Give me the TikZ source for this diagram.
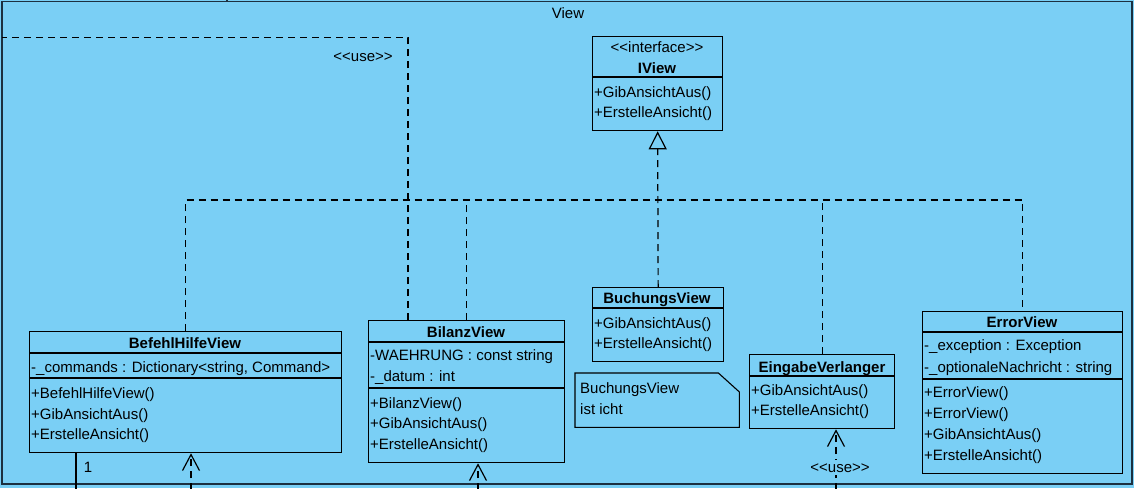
\documentclass[tikz,border=0pt]{standalone}
\usepackage{fontspec}
\setmainfont{Liberation Sans}
\usetikzlibrary{arrows.meta,calc}
\definecolor{viewblue}{RGB}{122,207,245}
\definecolor{framecol}{RGB}{28,48,64}
\newcommand{\stereo}[1]{<\kern0pt<#1>\kern0pt>}

\begin{document}
\begin{tikzpicture}[
    x=1pt, y=-1pt,
    every node/.style={font=\fontsize{15}{18}\selectfont, inner sep=0pt},
    cls/.style={draw=black, line width=1.3pt, fill=viewblue, anchor=north west, inner sep=0pt},
    notebox/.style={anchor=north west, inner sep=0pt, minimum width=164, minimum height=54},
    title/.style={font=\fontsize{15}{18}\selectfont\bfseries, text height=11pt, text depth=0pt},
    label/.style={text height=11pt, text depth=0pt},
    member/.style={anchor=west, text height=11pt, text depth=0pt},
    sep/.style={line width=1.1pt},
    realize/.style={line width=1.2pt, dash pattern=on 7pt off 5pt},
    dep/.style={line width=1.2pt, dash pattern=on 7pt off 5pt, -{Straight Barb[length=16pt,width=17pt]}},
    assoc/.style={line width=1.2pt}
]

\useasboundingbox (0,0) rectangle (1134,488);
\fill[viewblue] (0,0) rectangle (1134,488);

% package frame
\draw[framecol, line width=1.5pt] (2,1.5) rectangle (1132,484);
\draw[framecol, line width=1.5pt] (227,0) -- (227,1.5);
\node[label] (viewlabel) at (568,13) {View};

% classes
\node[cls, minimum width=130, minimum height=94] (iview) at (592,36) {};
\node[cls, minimum width=312, minimum height=121] (befehl) at (29,331) {};
\node[cls, minimum width=196, minimum height=142] (bilanz) at (368,320) {};
\node[cls, minimum width=131, minimum height=74] (buchungs) at (592,287) {};
\node[cls, minimum width=145, minimum height=74] (eingabe) at (749,354) {};
\node[cls, minimum width=200, minimum height=162] (error) at (922,311) {};
\node[notebox] (note) at (575,373) {};

\draw[sep] ([yshift=-41pt]iview.north west) -- ([yshift=-41pt]iview.north east);
\draw[sep] ([yshift=-22pt]befehl.north west) -- ([yshift=-22pt]befehl.north east);
\draw[sep] ([yshift=-47pt]befehl.north west) -- ([yshift=-47pt]befehl.north east);
\draw[sep] ([yshift=-22pt]bilanz.north west) -- ([yshift=-22pt]bilanz.north east);
\draw[sep] ([yshift=-68pt]bilanz.north west) -- ([yshift=-68pt]bilanz.north east);
\draw[sep] ([yshift=-21pt]buchungs.north west) -- ([yshift=-21pt]buchungs.north east);
\draw[sep] ([yshift=-22pt]eingabe.north west) -- ([yshift=-22pt]eingabe.north east);
\draw[sep] ([yshift=-21pt]error.north west) -- ([yshift=-21pt]error.north east);
\draw[sep] ([yshift=-68pt]error.north west) -- ([yshift=-68pt]error.north east);
\draw[sep] (note.north west) -- ([xshift=-21pt]note.north east) -- ([yshift=-19pt]note.north east)
    -- (note.south east) -- (note.south west) -- cycle;

\node[label] (iview-st) at (657,47) {\stereo{interface}};
\node[title] (iview-t) at (657,68) {IView};
\node[member] (iview-m1) at (594,92) {+GibAnsichtAus()};
\node[member] (iview-m2) at (594,112) {+ErstelleAnsicht()};

\node[title] (befehl-t) at (185,343) {BefehlHilfeView};
\node[member] (befehl-a1) at (31,367) {-\_commands : Dictionary<string, Command>};
\node[member] (befehl-m1) at (31,393) {+BefehlHilfeView()};
\node[member] (befehl-m2) at (31,414) {+GibAnsichtAus()};
\node[member] (befehl-m3) at (31,434) {+ErstelleAnsicht()};

\node[title] (bilanz-t) at (466,332) {BilanzView};
\node[member] (bilanz-a1) at (370,355) {-WAEHRUNG : const string};
\node[member] (bilanz-a2) at (370,376) {-\_datum : int};
\node[member] (bilanz-m1) at (370,403) {+BilanzView()};
\node[member] (bilanz-m2) at (370,423) {+GibAnsichtAus()};
\node[member] (bilanz-m3) at (370,444) {+ErstelleAnsicht()};

\node[title] (buchungs-t) at (657,298) {BuchungsView};
\node[member] (buchungs-m1) at (594,323) {+GibAnsichtAus()};
\node[member] (buchungs-m2) at (594,343) {+ErstelleAnsicht()};

\node[title] (eingabe-t) at (822,367) {EingabeVerlanger};
\node[member] (eingabe-m1) at (751,390) {+GibAnsichtAus()};
\node[member] (eingabe-m2) at (751,410) {+ErstelleAnsicht()};

\node[title] (error-t) at (1022,322) {ErrorView};
\node[member] (error-a1) at (924,345) {-\_exception : Exception};
\node[member] (error-a2) at (924,367) {-\_optionaleNachricht : string};
\node[member] (error-m1) at (924,392) {+ErrorView()};
\node[member] (error-m2) at (924,413) {+ErrorView()};
\node[member] (error-m3) at (924,434) {+GibAnsichtAus()};
\node[member] (error-m4) at (924,455) {+ErstelleAnsicht()};

\node[member] (note-l1) at (580,388) {BuchungsView};
\node[member] (note-l2) at (580,409) {ist icht};

% realizations of IView
\coordinate (bus) at (657,200);
\draw[realize] (befehl.north) |- (bus) -| (error.north);
\draw[realize] (bilanz.north) -- (bilanz.north |- bus);
\draw[realize] (eingabe.north) -- (eingabe.north |- bus);
\draw[realize, -{Triangle[open,length=18pt,width=18pt]}] (buchungs.north) -- (iview.south);

% dependencies
\coordinate (useturn) at (408,37.5);
\coordinate (useend) at (2,37.5);
\draw[realize] (bilanz.north -| useturn) -- (useturn) -- (useend);
\node[label] (use-top) at (363,56) {\stereo{use}};

\coordinate (befehl-in) at (191,490);
\coordinate (bilanz-in) at (478,490);
\coordinate (eingabe-in) at (836,490);
\draw[dep] (befehl-in) -- (befehl.south -| befehl-in);
\draw[dep] (bilanz-in) -- (bilanz.south -| bilanz-in);
\draw[dep] (eingabe-in) -- (eingabe.south -| eingabe-in);
\node[label, fill=viewblue, inner ysep=2pt] (use-bottom) at (840,467) {\stereo{use}};

\coordinate (befehl-out) at (76,490);
\draw[assoc] (befehl.south -| befehl-out) -- (befehl-out);
\node[label] (befehl-mult) at (88,467) {1};

\end{tikzpicture}
\end{document}
